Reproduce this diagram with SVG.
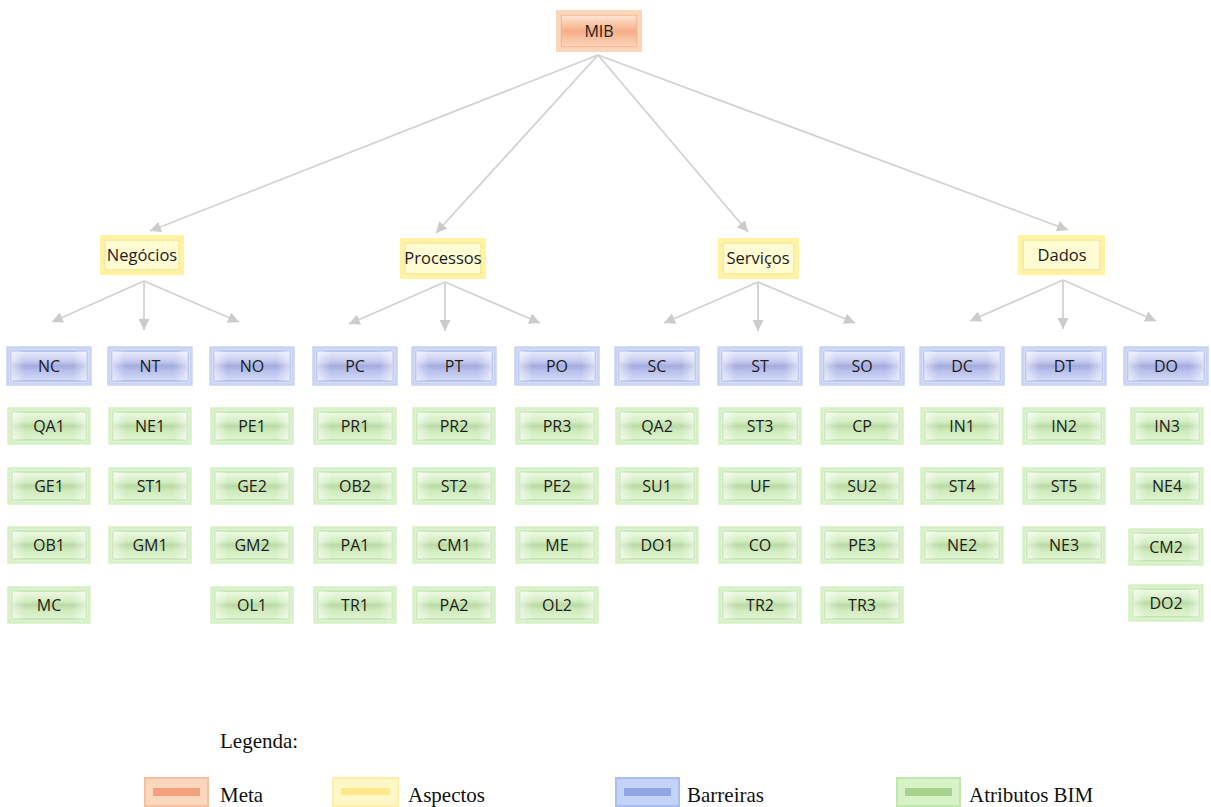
<svg xmlns="http://www.w3.org/2000/svg" width="1211" height="807" viewBox="0 0 1211 807">
  <defs>
    <style>
      .lbl { font-family: "Open Sans", "Liberation Sans", sans-serif; font-size: 16px; fill: #1c1c1c; text-anchor: middle; }
      .asp { font-size: 16.5px; }
      .leg { font-family: "Liberation Serif", "Times New Roman", serif; font-size: 21px; fill: #111; }
      .conn { stroke: #d2d2d2; stroke-width: 1.8; fill: none; marker-end: url(#arrow); }
      .glowB { fill: none; stroke: #c9d4f5; stroke-width: 3.5; }
      .boxB { fill: url(#gBlue); stroke: #96a6e3; stroke-width: 1.2; }
      .glowG { fill: none; stroke: #d6f1c5; stroke-width: 3.5; }
      .boxG { fill: url(#gGreen); stroke: #add996; stroke-width: 1.2; }
      .glowY { fill: none; stroke: #fff2a0; stroke-width: 4; }
      .boxY { fill: #fffbd2; stroke: #f5e278; stroke-width: 1.2; }
      .glowO { fill: none; stroke: #fcd6b8; stroke-width: 4; }
      .boxO { fill: url(#gOrange); stroke: #f2ae82; stroke-width: 1.2; }
      .side { fill: url(#gSide); }
    </style>
    <linearGradient id="gBlue" x1="0" y1="0" x2="0" y2="1">
      <stop offset="0" stop-color="#eaedfc"/>
      <stop offset="0.35" stop-color="#c3c9ee"/>
      <stop offset="0.5" stop-color="#a5acdd"/>
      <stop offset="0.68" stop-color="#b9c1ed"/>
      <stop offset="1" stop-color="#d5dcf8"/>
    </linearGradient>
    <linearGradient id="gGreen" x1="0" y1="0" x2="0" y2="1">
      <stop offset="0" stop-color="#effae6"/>
      <stop offset="0.35" stop-color="#d3eec1"/>
      <stop offset="0.5" stop-color="#bbd9a6"/>
      <stop offset="0.68" stop-color="#cfebbb"/>
      <stop offset="1" stop-color="#e1f4d3"/>
    </linearGradient>
    <linearGradient id="gOrange" x1="0" y1="0" x2="0" y2="1">
      <stop offset="0" stop-color="#fde8d6"/>
      <stop offset="0.5" stop-color="#f6ae86"/>
      <stop offset="1" stop-color="#fcd7bd"/>
    </linearGradient>
    <linearGradient id="gSide" x1="0" y1="0" x2="1" y2="0">
      <stop offset="0" stop-color="#ffffff" stop-opacity="0.55"/>
      <stop offset="0.18" stop-color="#ffffff" stop-opacity="0"/>
      <stop offset="0.82" stop-color="#ffffff" stop-opacity="0"/>
      <stop offset="1" stop-color="#ffffff" stop-opacity="0.55"/>
    </linearGradient>
    <marker id="arrow" markerUnits="userSpaceOnUse" markerWidth="11" markerHeight="11" refX="11" refY="5.5" orient="auto">
      <path d="M0,0 L11,5.5 L0,11 Z" fill="#cbcbcb"/>
    </marker>
  </defs>

  <rect width="1211" height="807" fill="#ffffff"/>

  <!-- connectors -->
  <g id="connectors">
    <line class="conn" x1="598" y1="55" x2="150" y2="231"/>
    <line class="conn" x1="598" y1="55" x2="436" y2="233"/>
    <line class="conn" x1="598" y1="55" x2="748" y2="232"/>
    <line class="conn" x1="598" y1="55" x2="1068" y2="230"/>

    <line class="conn" x1="144" y1="281" x2="52" y2="322"/>
    <line class="conn" x1="144" y1="281" x2="144" y2="330"/>
    <line class="conn" x1="144" y1="281" x2="239" y2="322"/>

    <line class="conn" x1="445" y1="282" x2="349" y2="324"/>
    <line class="conn" x1="445" y1="282" x2="445" y2="331"/>
    <line class="conn" x1="445" y1="282" x2="540" y2="323"/>

    <line class="conn" x1="758" y1="282" x2="664" y2="323"/>
    <line class="conn" x1="758" y1="282" x2="758" y2="331"/>
    <line class="conn" x1="758" y1="282" x2="855" y2="323"/>

    <line class="conn" x1="1063" y1="280" x2="970" y2="321"/>
    <line class="conn" x1="1063" y1="280" x2="1063" y2="329"/>
    <line class="conn" x1="1063" y1="280" x2="1156" y2="321"/>
  </g>

  <!-- goal -->
  <g id="MIB">
    <rect class="glowO" x="558" y="12" width="82" height="38"/>
    <rect class="boxO" x="561" y="15" width="76" height="32"/>
    <text class="lbl" x="599" y="37" font-size="17">MIB</text>
  </g>

  <!-- aspects -->
  <g id="Negocios">
    <rect class="glowY" x="102" y="237" width="80" height="36"/>
    <rect class="boxY" x="105" y="240" width="74" height="30"/>
    <text class="lbl asp" x="142" y="261">Negócios</text>
  </g>
  <g id="Processos">
    <rect class="glowY" x="402" y="240" width="82" height="37"/>
    <rect class="boxY" x="405" y="243" width="76" height="31"/>
    <text class="lbl asp" x="443" y="264">Processos</text>
  </g>
  <g id="Servicos">
    <rect class="glowY" x="720" y="240" width="77" height="37"/>
    <rect class="boxY" x="723" y="243" width="71" height="31"/>
    <text class="lbl asp" x="758" y="264">Serviços</text>
  </g>
  <g id="Dados">
    <rect class="glowY" x="1020" y="237" width="83" height="36"/>
    <rect class="boxY" x="1023" y="240" width="77" height="30"/>
    <text class="lbl asp" x="1062" y="261">Dados</text>
  </g>

  <!-- barriers -->
  <g id="NC"><rect class="glowB" x="8" y="348" width="82" height="36"/><rect class="boxB" x="11" y="351" width="76" height="30"/><rect class="side" x="11" y="351" width="76" height="30"/><text class="lbl" x="49" y="372">NC</text></g>
  <g id="NT"><rect class="glowB" x="109" y="348" width="82" height="36"/><rect class="boxB" x="112" y="351" width="76" height="30"/><rect class="side" x="112" y="351" width="76" height="30"/><text class="lbl" x="150" y="372">NT</text></g>
  <g id="NO"><rect class="glowB" x="211" y="348" width="82" height="36"/><rect class="boxB" x="214" y="351" width="76" height="30"/><rect class="side" x="214" y="351" width="76" height="30"/><text class="lbl" x="252" y="372">NO</text></g>
  <g id="PC"><rect class="glowB" x="314" y="348" width="82" height="36"/><rect class="boxB" x="317" y="351" width="76" height="30"/><rect class="side" x="317" y="351" width="76" height="30"/><text class="lbl" x="355" y="372">PC</text></g>
  <g id="PT"><rect class="glowB" x="413" y="348" width="82" height="36"/><rect class="boxB" x="416" y="351" width="76" height="30"/><rect class="side" x="416" y="351" width="76" height="30"/><text class="lbl" x="454" y="372">PT</text></g>
  <g id="PO"><rect class="glowB" x="516" y="348" width="82" height="36"/><rect class="boxB" x="519" y="351" width="76" height="30"/><rect class="side" x="519" y="351" width="76" height="30"/><text class="lbl" x="557" y="372">PO</text></g>
  <g id="SC"><rect class="glowB" x="616" y="348" width="82" height="36"/><rect class="boxB" x="619" y="351" width="76" height="30"/><rect class="side" x="619" y="351" width="76" height="30"/><text class="lbl" x="657" y="372">SC</text></g>
  <g id="ST"><rect class="glowB" x="719" y="348" width="82" height="36"/><rect class="boxB" x="722" y="351" width="76" height="30"/><rect class="side" x="722" y="351" width="76" height="30"/><text class="lbl" x="760" y="372">ST</text></g>
  <g id="SO"><rect class="glowB" x="821" y="348" width="82" height="36"/><rect class="boxB" x="824" y="351" width="76" height="30"/><rect class="side" x="824" y="351" width="76" height="30"/><text class="lbl" x="862" y="372">SO</text></g>
  <g id="DC"><rect class="glowB" x="921" y="348" width="82" height="36"/><rect class="boxB" x="924" y="351" width="76" height="30"/><rect class="side" x="924" y="351" width="76" height="30"/><text class="lbl" x="962" y="372">DC</text></g>
  <g id="DT"><rect class="glowB" x="1023" y="348" width="82" height="36"/><rect class="boxB" x="1026" y="351" width="76" height="30"/><rect class="side" x="1026" y="351" width="76" height="30"/><text class="lbl" x="1064" y="372">DT</text></g>
  <g id="DO"><rect class="glowB" x="1125" y="348" width="82" height="36"/><rect class="boxB" x="1128" y="351" width="76" height="30"/><rect class="side" x="1128" y="351" width="76" height="30"/><text class="lbl" x="1166" y="372">DO</text></g>

  <!-- BIM attributes: column NC -->
  <g id="QA1"><rect class="glowG" x="9" y="409" width="80" height="34"/><rect class="boxG" x="12" y="412" width="74" height="28"/><rect class="side" x="12" y="412" width="74" height="28"/><text class="lbl" x="49" y="432">QA1</text></g>
  <g id="GE1"><rect class="glowG" x="9" y="469" width="80" height="34"/><rect class="boxG" x="12" y="472" width="74" height="28"/><rect class="side" x="12" y="472" width="74" height="28"/><text class="lbl" x="49" y="492">GE1</text></g>
  <g id="OB1"><rect class="glowG" x="9" y="528" width="80" height="34"/><rect class="boxG" x="12" y="531" width="74" height="28"/><rect class="side" x="12" y="531" width="74" height="28"/><text class="lbl" x="49" y="551">OB1</text></g>
  <g id="MC"><rect class="glowG" x="9" y="588" width="80" height="34"/><rect class="boxG" x="12" y="591" width="74" height="28"/><rect class="side" x="12" y="591" width="74" height="28"/><text class="lbl" x="49" y="611">MC</text></g>

  <!-- column NT -->
  <g id="NE1"><rect class="glowG" x="110" y="409" width="80" height="34"/><rect class="boxG" x="113" y="412" width="74" height="28"/><rect class="side" x="113" y="412" width="74" height="28"/><text class="lbl" x="150" y="432">NE1</text></g>
  <g id="ST1"><rect class="glowG" x="110" y="469" width="80" height="34"/><rect class="boxG" x="113" y="472" width="74" height="28"/><rect class="side" x="113" y="472" width="74" height="28"/><text class="lbl" x="150" y="492">ST1</text></g>
  <g id="GM1"><rect class="glowG" x="110" y="528" width="80" height="34"/><rect class="boxG" x="113" y="531" width="74" height="28"/><rect class="side" x="113" y="531" width="74" height="28"/><text class="lbl" x="150" y="551">GM1</text></g>

  <!-- column NO -->
  <g id="PE1"><rect class="glowG" x="212" y="409" width="80" height="34"/><rect class="boxG" x="215" y="412" width="74" height="28"/><rect class="side" x="215" y="412" width="74" height="28"/><text class="lbl" x="252" y="432">PE1</text></g>
  <g id="GE2"><rect class="glowG" x="212" y="469" width="80" height="34"/><rect class="boxG" x="215" y="472" width="74" height="28"/><rect class="side" x="215" y="472" width="74" height="28"/><text class="lbl" x="252" y="492">GE2</text></g>
  <g id="GM2"><rect class="glowG" x="212" y="528" width="80" height="34"/><rect class="boxG" x="215" y="531" width="74" height="28"/><rect class="side" x="215" y="531" width="74" height="28"/><text class="lbl" x="252" y="551">GM2</text></g>
  <g id="OL1"><rect class="glowG" x="212" y="588" width="80" height="34"/><rect class="boxG" x="215" y="591" width="74" height="28"/><rect class="side" x="215" y="591" width="74" height="28"/><text class="lbl" x="252" y="611">OL1</text></g>

  <!-- column PC -->
  <g id="PR1"><rect class="glowG" x="315" y="409" width="80" height="34"/><rect class="boxG" x="318" y="412" width="74" height="28"/><rect class="side" x="318" y="412" width="74" height="28"/><text class="lbl" x="355" y="432">PR1</text></g>
  <g id="OB2"><rect class="glowG" x="315" y="469" width="80" height="34"/><rect class="boxG" x="318" y="472" width="74" height="28"/><rect class="side" x="318" y="472" width="74" height="28"/><text class="lbl" x="355" y="492">OB2</text></g>
  <g id="PA1"><rect class="glowG" x="315" y="528" width="80" height="34"/><rect class="boxG" x="318" y="531" width="74" height="28"/><rect class="side" x="318" y="531" width="74" height="28"/><text class="lbl" x="355" y="551">PA1</text></g>
  <g id="TR1"><rect class="glowG" x="315" y="588" width="80" height="34"/><rect class="boxG" x="318" y="591" width="74" height="28"/><rect class="side" x="318" y="591" width="74" height="28"/><text class="lbl" x="355" y="611">TR1</text></g>

  <!-- column PT -->
  <g id="PR2"><rect class="glowG" x="414" y="409" width="80" height="34"/><rect class="boxG" x="417" y="412" width="74" height="28"/><rect class="side" x="417" y="412" width="74" height="28"/><text class="lbl" x="454" y="432">PR2</text></g>
  <g id="ST2"><rect class="glowG" x="414" y="469" width="80" height="34"/><rect class="boxG" x="417" y="472" width="74" height="28"/><rect class="side" x="417" y="472" width="74" height="28"/><text class="lbl" x="454" y="492">ST2</text></g>
  <g id="CM1"><rect class="glowG" x="414" y="528" width="80" height="34"/><rect class="boxG" x="417" y="531" width="74" height="28"/><rect class="side" x="417" y="531" width="74" height="28"/><text class="lbl" x="454" y="551">CM1</text></g>
  <g id="PA2"><rect class="glowG" x="414" y="588" width="80" height="34"/><rect class="boxG" x="417" y="591" width="74" height="28"/><rect class="side" x="417" y="591" width="74" height="28"/><text class="lbl" x="454" y="611">PA2</text></g>

  <!-- column PO -->
  <g id="PR3"><rect class="glowG" x="517" y="409" width="80" height="34"/><rect class="boxG" x="520" y="412" width="74" height="28"/><rect class="side" x="520" y="412" width="74" height="28"/><text class="lbl" x="557" y="432">PR3</text></g>
  <g id="PE2"><rect class="glowG" x="517" y="469" width="80" height="34"/><rect class="boxG" x="520" y="472" width="74" height="28"/><rect class="side" x="520" y="472" width="74" height="28"/><text class="lbl" x="557" y="492">PE2</text></g>
  <g id="ME"><rect class="glowG" x="517" y="528" width="80" height="34"/><rect class="boxG" x="520" y="531" width="74" height="28"/><rect class="side" x="520" y="531" width="74" height="28"/><text class="lbl" x="557" y="551">ME</text></g>
  <g id="OL2"><rect class="glowG" x="517" y="588" width="80" height="34"/><rect class="boxG" x="520" y="591" width="74" height="28"/><rect class="side" x="520" y="591" width="74" height="28"/><text class="lbl" x="557" y="611">OL2</text></g>

  <!-- column SC -->
  <g id="QA2"><rect class="glowG" x="617" y="409" width="80" height="34"/><rect class="boxG" x="620" y="412" width="74" height="28"/><rect class="side" x="620" y="412" width="74" height="28"/><text class="lbl" x="657" y="432">QA2</text></g>
  <g id="SU1"><rect class="glowG" x="617" y="469" width="80" height="34"/><rect class="boxG" x="620" y="472" width="74" height="28"/><rect class="side" x="620" y="472" width="74" height="28"/><text class="lbl" x="657" y="492">SU1</text></g>
  <g id="DO1"><rect class="glowG" x="617" y="528" width="80" height="34"/><rect class="boxG" x="620" y="531" width="74" height="28"/><rect class="side" x="620" y="531" width="74" height="28"/><text class="lbl" x="657" y="551">DO1</text></g>

  <!-- column ST -->
  <g id="ST3"><rect class="glowG" x="720" y="409" width="80" height="34"/><rect class="boxG" x="723" y="412" width="74" height="28"/><rect class="side" x="723" y="412" width="74" height="28"/><text class="lbl" x="760" y="432">ST3</text></g>
  <g id="UF"><rect class="glowG" x="720" y="469" width="80" height="34"/><rect class="boxG" x="723" y="472" width="74" height="28"/><rect class="side" x="723" y="472" width="74" height="28"/><text class="lbl" x="760" y="492">UF</text></g>
  <g id="CO"><rect class="glowG" x="720" y="528" width="80" height="34"/><rect class="boxG" x="723" y="531" width="74" height="28"/><rect class="side" x="723" y="531" width="74" height="28"/><text class="lbl" x="760" y="551">CO</text></g>
  <g id="TR2"><rect class="glowG" x="720" y="588" width="80" height="34"/><rect class="boxG" x="723" y="591" width="74" height="28"/><rect class="side" x="723" y="591" width="74" height="28"/><text class="lbl" x="760" y="611">TR2</text></g>

  <!-- column SO -->
  <g id="CP"><rect class="glowG" x="822" y="409" width="80" height="34"/><rect class="boxG" x="825" y="412" width="74" height="28"/><rect class="side" x="825" y="412" width="74" height="28"/><text class="lbl" x="862" y="432">CP</text></g>
  <g id="SU2"><rect class="glowG" x="822" y="469" width="80" height="34"/><rect class="boxG" x="825" y="472" width="74" height="28"/><rect class="side" x="825" y="472" width="74" height="28"/><text class="lbl" x="862" y="492">SU2</text></g>
  <g id="PE3"><rect class="glowG" x="822" y="528" width="80" height="34"/><rect class="boxG" x="825" y="531" width="74" height="28"/><rect class="side" x="825" y="531" width="74" height="28"/><text class="lbl" x="862" y="551">PE3</text></g>
  <g id="TR3"><rect class="glowG" x="822" y="588" width="80" height="34"/><rect class="boxG" x="825" y="591" width="74" height="28"/><rect class="side" x="825" y="591" width="74" height="28"/><text class="lbl" x="862" y="611">TR3</text></g>

  <!-- column DC -->
  <g id="IN1"><rect class="glowG" x="922" y="409" width="80" height="34"/><rect class="boxG" x="925" y="412" width="74" height="28"/><rect class="side" x="925" y="412" width="74" height="28"/><text class="lbl" x="962" y="432">IN1</text></g>
  <g id="ST4"><rect class="glowG" x="922" y="469" width="80" height="34"/><rect class="boxG" x="925" y="472" width="74" height="28"/><rect class="side" x="925" y="472" width="74" height="28"/><text class="lbl" x="962" y="492">ST4</text></g>
  <g id="NE2"><rect class="glowG" x="922" y="528" width="80" height="34"/><rect class="boxG" x="925" y="531" width="74" height="28"/><rect class="side" x="925" y="531" width="74" height="28"/><text class="lbl" x="962" y="551">NE2</text></g>

  <!-- column DT -->
  <g id="IN2"><rect class="glowG" x="1024" y="409" width="80" height="34"/><rect class="boxG" x="1027" y="412" width="74" height="28"/><rect class="side" x="1027" y="412" width="74" height="28"/><text class="lbl" x="1064" y="432">IN2</text></g>
  <g id="ST5"><rect class="glowG" x="1024" y="469" width="80" height="34"/><rect class="boxG" x="1027" y="472" width="74" height="28"/><rect class="side" x="1027" y="472" width="74" height="28"/><text class="lbl" x="1064" y="492">ST5</text></g>
  <g id="NE3"><rect class="glowG" x="1024" y="528" width="80" height="34"/><rect class="boxG" x="1027" y="531" width="74" height="28"/><rect class="side" x="1027" y="531" width="74" height="28"/><text class="lbl" x="1064" y="551">NE3</text></g>

  <!-- column DO -->
  <g id="IN3"><rect class="glowG" x="1132" y="409" width="70" height="34"/><rect class="boxG" x="1135" y="412" width="64" height="28"/><rect class="side" x="1135" y="412" width="64" height="28"/><text class="lbl" x="1167" y="432">IN3</text></g>
  <g id="NE4"><rect class="glowG" x="1132" y="469" width="70" height="34"/><rect class="boxG" x="1135" y="472" width="64" height="28"/><rect class="side" x="1135" y="472" width="64" height="28"/><text class="lbl" x="1167" y="492">NE4</text></g>
  <g id="CM2"><rect class="glowG" x="1130" y="530" width="72" height="34"/><rect class="boxG" x="1133" y="533" width="66" height="28"/><rect class="side" x="1133" y="533" width="66" height="28"/><text class="lbl" x="1166" y="553">CM2</text></g>
  <g id="DO2"><rect class="glowG" x="1130" y="586" width="72" height="34"/><rect class="boxG" x="1133" y="589" width="66" height="28"/><rect class="side" x="1133" y="589" width="66" height="28"/><text class="lbl" x="1166" y="609">DO2</text></g>

  <!-- legend -->
  <g id="legend">
    <text class="leg" x="220" y="748">Legenda:</text>

    <rect x="145" y="778" width="63" height="28" fill="#fbd7bd" stroke="#f6c09c" stroke-width="2"/>
    <rect x="153" y="788" width="47" height="8" fill="#f4a07c"/>
    <text class="leg" x="220" y="802">Meta</text>

    <rect x="333" y="778" width="65" height="28" fill="#fff7c6" stroke="#fff0a8" stroke-width="2"/>
    <rect x="341" y="788" width="49" height="7" fill="#fde88c"/>
    <text class="leg" x="408" y="802">Aspectos</text>

    <rect x="616" y="778" width="63" height="28" fill="#c4d2f6" stroke="#a9bdf0" stroke-width="2"/>
    <rect x="624" y="788" width="47" height="8" fill="#8fa6e0"/>
    <text class="leg" x="687" y="802">Barreiras</text>

    <rect x="897" y="778" width="63" height="28" fill="#d7f2c6" stroke="#c2e8a9" stroke-width="2"/>
    <rect x="905" y="788" width="47" height="8" fill="#a6d28e"/>
    <text class="leg" x="969" y="802">Atributos BIM</text>
  </g>
</svg>
